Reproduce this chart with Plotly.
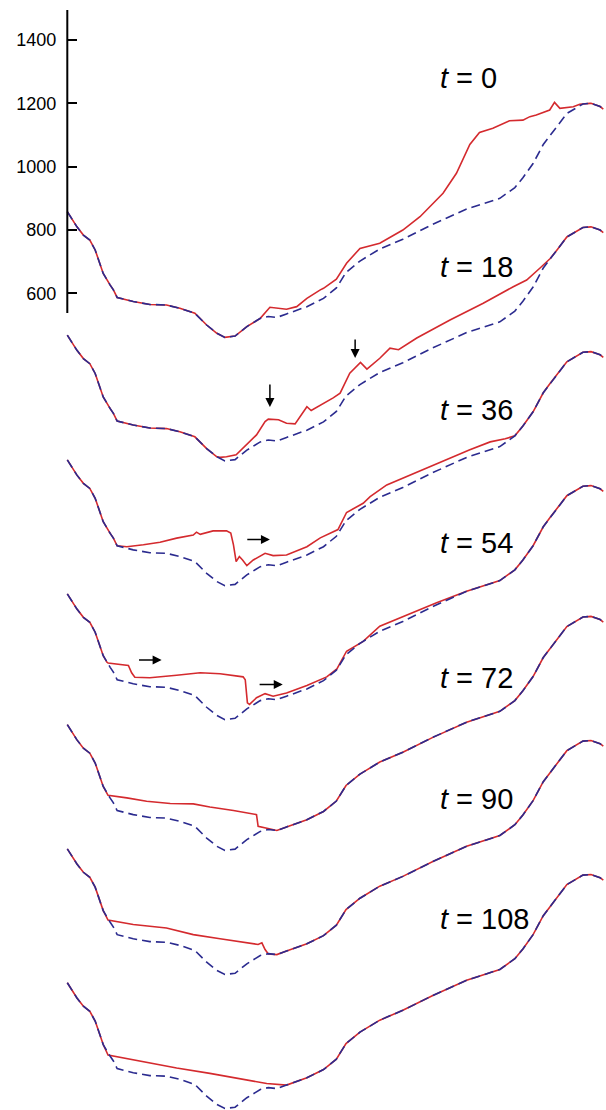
import plotly.graph_objects as go

# ---------------- data ----------------
# bed profile (dashed), distance along flow line (arbitrary km) and elevation (m)
bed_dist = [0.0, 0.8, 1.8, 3.0, 4.2, 5.2, 6.0, 6.7, 8.0, 8.6, 9.3, 12.3, 15.4, 18.5, 21.0,
            23.8, 26.0, 27.9, 29.4, 31.3, 33.5, 36.0, 37.5, 39.1, 40.9, 44.7, 47.8, 50.2,
            52.0, 54.6, 58.3, 62.6, 68.2, 74.5, 80.7, 83.5, 85.0, 86.9, 88.8, 90.1, 91.4,
            93.2, 96.2, 97.7, 99.4, 100.0]
bed_elev = [858, 837, 810, 784, 768, 737, 700, 663, 626, 611, 587, 574, 565, 563, 553,
            537, 500, 474, 461, 465, 495, 521, 527, 524, 535, 558, 584, 617,
            666, 702, 740, 771, 818, 866, 900, 934, 965, 1010, 1070, 1100, 1128,
            1168, 1198, 1200, 1190, 1182]

times = [0, 18, 36, 54, 72, 90, 108]

# surface profiles (solid) where they depart from the bed
t0_dist = [36.0, 37.8, 39.3, 40.9, 42.8, 44.0, 44.7, 47.2, 47.8, 50.2, 52.1, 54.6, 58.3,
           62.6, 65.8, 70.1, 72.6, 75.1, 76.9, 79.4, 82.5, 85.0, 86.3, 87.5, 90.0, 90.9,
           91.9, 94.4, 95.6, 97.5]
t0_elev = [521, 556, 552, 550, 558, 574, 584, 611, 616, 645, 695, 742, 758,
           800, 842, 916, 979, 1070, 1108, 1121, 1145, 1147, 1158, 1163, 1179, 1203,
           1184, 1189, 1197, 1200]

t18_dist = [27.9, 28.5, 29.7, 31.5, 33.5, 35.3, 36.9, 37.5, 39.4, 40.9, 42.5, 43.4, 44.7,
            45.5, 47.2, 49.6, 50.9, 51.8, 52.7, 54.7, 55.9, 58.3, 60.2, 61.8, 65.2, 71.4,
            77.6, 83.2, 85.7, 88.2, 90.1]
t18_elev = [474, 472, 474, 480, 512, 543, 585, 593, 591, 580, 578, 601, 632,
            620, 636, 660, 675, 707, 738, 772, 751, 785, 817, 812, 849, 906,
            959, 1011, 1032, 1070, 1100]

t36_dist = [9.3, 11.1, 14.2, 17.3, 20.4, 23.5, 24.1, 24.8, 27.2, 29.7, 30.5, 31.0, 31.5,
            32.1, 32.7, 33.5, 34.7, 36.9, 38.4, 40.9, 44.7, 47.2, 50.5, 52.1, 55.2, 56.5,
            59.6, 63.9, 69.5, 75.1, 78.9, 81.7]
t36_elev = [587, 584, 590, 598, 611, 621, 630, 623, 634, 634, 627, 590, 537,
            553, 542, 524, 542, 563, 556, 558, 584, 612, 638, 692, 721, 742,
            779, 810, 850, 890, 915, 925]

t54_dist = [7.4, 7.6, 11.4, 12.0, 12.6, 15.4, 20.4, 24.8, 28.5, 32.8, 33.2, 33.6, 34.0,
            35.3, 36.9, 38.4, 40.9, 44.7, 48.4, 50.3, 52.1, 55.2, 58.3, 62.7, 68.9]
t54_elev = [642, 640, 632, 609, 595, 593, 601, 609, 606, 596, 587, 514, 509,
            530, 543, 535, 545, 569, 596, 621, 677, 708, 756, 787, 830]

t72_dist = [7.6, 11.1, 14.8, 19.2, 23.5, 26.6, 31.0, 35.3, 35.6, 36.3, 37.2, 38.4]
t72_elev = [635, 627, 616, 609, 608, 598, 587, 574, 537, 534, 532, 526]

t90_dist = [7.6, 12.3, 18.5, 23.5, 28.5, 33.5, 35.6, 36.3, 36.9, 37.5, 38.8]
t90_elev = [633, 619, 608, 587, 574, 561, 556, 561, 540, 526, 524]

t108_dist = [7.6, 14.2, 20.4, 26.6, 32.8, 37.2, 40.9]
t108_elev = [630, 608, 589, 572, 553, 540, 535]

surf_dist = [t0_dist, t18_dist, t36_dist, t54_dist, t72_dist, t90_dist, t108_dist]
surf_elev = [t0_elev, t18_elev, t36_elev, t54_elev, t72_elev, t90_elev, t108_elev]

y_tick_vals = [600, 800, 1000, 1200, 1400]

# ---------------- layout constants ----------------
panel_offset = [0, 390, 784, 1207, 1620, 2012, 2435]      # vertical stacking shift (m)
label_y = [1280, 683, 232, -187, -613, -997, -1377]       # label positions (axis units)
label_x = 69.1
# arrows: (x_tail, y_tail, x_head, y_head) in axis units
arrows = [(37.8, 317, 37.8, 241), (53.7, 459, 53.7, 396),
          (33.3, -177, 37.8, -177),
          (13.1, -558, 17.6, -558), (35.6, -635, 40.2, -635)]

RED = "#d42a2e"
BLUE = "#2b2b8f"
FONT = "Liberation Sans, Arial, Helvetica, sans-serif"


def full_profile(sd, se):
    xs, ys = [], []
    for d, e in zip(bed_dist, bed_elev):
        if d < sd[0]:
            xs.append(d); ys.append(e)
    xs += sd; ys += se
    for d, e in zip(bed_dist, bed_elev):
        if d > sd[-1]:
            xs.append(d); ys.append(e)
    return xs, ys


fig = go.Figure()
for i, t in enumerate(times):
    off = panel_offset[i]
    xs, ys = full_profile(surf_dist[i], surf_elev[i])
    fig.add_trace(go.Scatter(x=xs, y=[v - off for v in ys], mode="lines",
                             line=dict(color=RED, width=1.6), showlegend=False,
                             hoverinfo="skip"))
    fig.add_trace(go.Scatter(x=bed_dist, y=[v - off for v in bed_elev], mode="lines",
                             line=dict(color=BLUE, width=1.6, dash="9px,5px"),
                             showlegend=False, hoverinfo="skip"))
    fig.add_annotation(x=label_x, y=label_y[i], xref="x", yref="y",
                       text=f"<i>t</i> = {t}", showarrow=False, xanchor="left",
                       yanchor="middle", font=dict(family=FONT, size=29, color="black"))

for (x0, y0, x1, y1) in arrows:
    fig.add_annotation(x=x1, y=y1, ax=x0, ay=y0, xref="x", yref="y", axref="x", ayref="y",
                       text="", showarrow=True, arrowhead=2, arrowsize=1.2,
                       arrowwidth=1.5, arrowcolor="black", standoff=0, startstandoff=0)

# axis line covering only the top panel
fig.add_shape(type="line", xref="x", yref="y", x0=0, x1=0, y0=538, y1=1495,
              line=dict(color="black", width=2))

W, H = 606, 1110
ML, MR = 10, 0
plot_w = W - ML - MR
px_per_unit = 5.36
x0_range = -(67.3 - ML) / px_per_unit
x1_range = x0_range + plot_w / px_per_unit

fig.update_layout(
    width=W, height=H,
    margin=dict(l=ML, r=MR, t=0, b=0, pad=0),
    paper_bgcolor="white", plot_bgcolor="white",
    xaxis=dict(range=[x0_range, x1_range], visible=False, fixedrange=True),
    yaxis=dict(range=[-1978.7, 1526.3], anchor="free",
               position=(67.3 - ML) / plot_w,
               tickvals=y_tick_vals, ticktext=[str(v) for v in y_tick_vals],
               ticks="inside", ticklen=9, tickwidth=1.5, tickcolor="black",
               showgrid=False, zeroline=False, showline=False,
               ticklabelstandoff=11,
               tickfont=dict(family=FONT, size=18, color="black"), fixedrange=True),
    font=dict(family=FONT),
)

fig.write_html("out.html",
               config={"displayModeBar": False},
               post_script="document.body.style.margin='0px';"
                           "document.body.style.overflow='hidden';")
